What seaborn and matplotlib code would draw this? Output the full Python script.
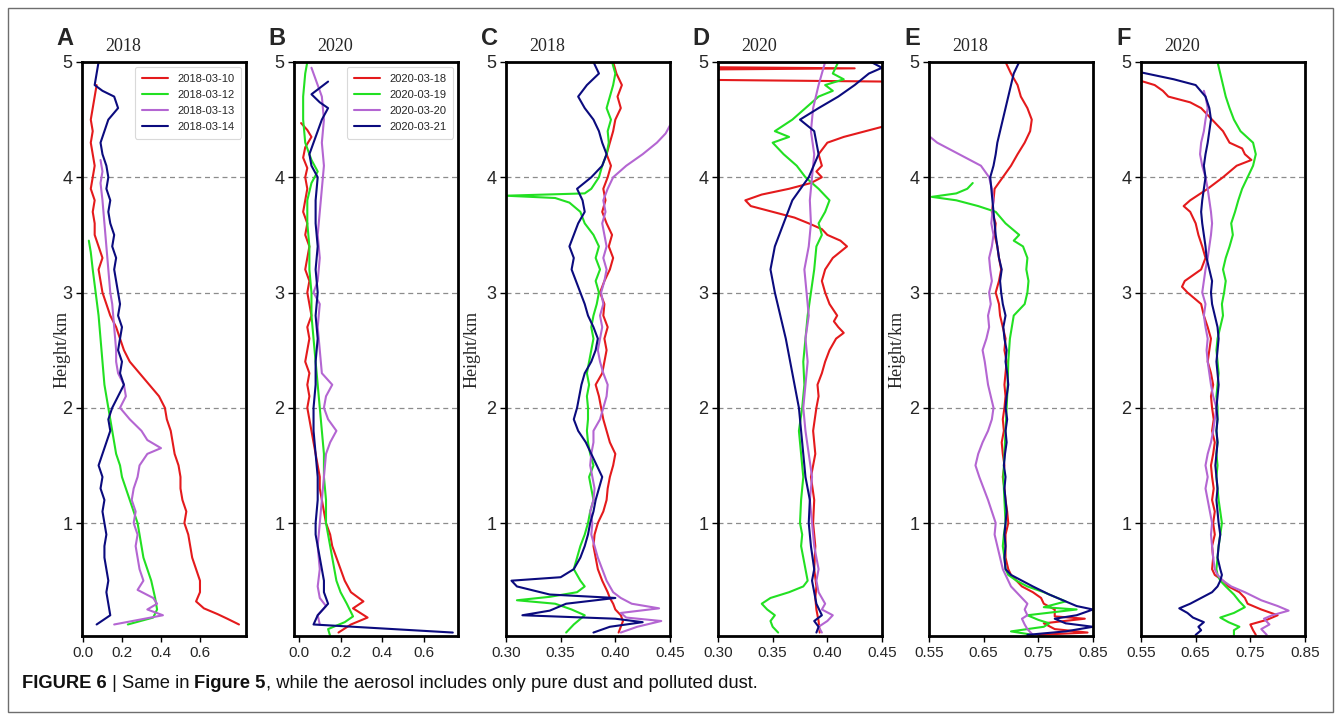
import numpy as np
import pandas as pd
import matplotlib
matplotlib.use("Agg")
import matplotlib.pyplot as plt
import seaborn as sns
from matplotlib.patches import Rectangle

sns.set_theme(style="ticks")
plt.rcParams["font.family"] = ["Liberation Sans", "DejaVu Sans"]

# ---------------- data ----------------
dates_2018 = ["2018-03-10", "2018-03-12", "2018-03-13", "2018-03-14"]
dates_2020 = ["2020-03-18", "2020-03-19", "2020-03-20", "2020-03-21"]
colors = ["#e41a1c", "#22e022", "#b466d2", "#0b0b7e"]

# Panel A (2018)
a1_h = [0.12,0.17,0.21,0.26,0.32,0.4,0.5,0.6,0.7,0.8,0.9,1.0,1.1,1.2,1.3,1.4,1.5,1.6,1.7,1.8,1.9,2.0,2.1,2.2,2.3,2.4,2.5,2.6,2.7,2.8,2.9,3.0,3.1,3.2,3.3,3.4,3.5,3.6,3.7,3.8,3.9,4.0,4.1,4.2,4.3,4.4,4.5,4.6,4.7,4.8]
a1_v = [0.80,0.74,0.69,0.62,0.58,0.60,0.60,0.58,0.56,0.55,0.54,0.52,0.53,0.51,0.50,0.50,0.49,0.47,0.46,0.45,0.43,0.42,0.39,0.34,0.29,0.24,0.21,0.19,0.17,0.14,0.12,0.10,0.09,0.08,0.10,0.08,0.06,0.06,0.05,0.06,0.04,0.05,0.06,0.05,0.04,0.05,0.04,0.05,0.06,0.07]
a2_h = [0.12,0.18,0.25,0.35,0.5,0.6,0.7,0.8,0.9,1.0,1.1,1.2,1.3,1.4,1.5,1.6,1.7,1.8,1.9,2.0,2.2,2.4,2.6,2.8,3.0,3.2,3.35,3.45]
a2_v = [0.23,0.36,0.38,0.37,0.35,0.33,0.31,0.30,0.29,0.28,0.26,0.24,0.22,0.20,0.19,0.17,0.16,0.15,0.14,0.13,0.11,0.10,0.09,0.08,0.065,0.05,0.04,0.03]
a3_h = [0.12,0.2,0.25,0.3,0.35,0.42,0.5,0.6,0.7,0.8,0.9,1.0,1.1,1.2,1.3,1.4,1.5,1.6,1.65,1.72,1.8,1.9,2.0,2.1,2.2,2.3,2.4,2.5,2.7,2.9,3.0,3.2,3.4,3.6,3.8,3.95,4.05,4.15]
a3_v = [0.16,0.41,0.33,0.38,0.36,0.28,0.31,0.29,0.28,0.27,0.28,0.26,0.27,0.25,0.26,0.28,0.29,0.33,0.40,0.33,0.30,0.24,0.19,0.22,0.21,0.18,0.17,0.17,0.16,0.15,0.14,0.13,0.12,0.11,0.10,0.09,0.10,0.09]
a4_h = [0.12,0.2,0.3,0.4,0.5,0.6,0.7,0.8,0.9,1.0,1.1,1.2,1.3,1.4,1.5,1.6,1.7,1.8,1.9,2.0,2.1,2.2,2.3,2.4,2.5,2.6,2.7,2.8,2.9,3.0,3.1,3.2,3.3,3.4,3.5,3.6,3.7,3.8,3.9,4.0,4.1,4.2,4.3,4.4,4.5,4.6,4.7,4.75,4.8,4.9,5.0]
a4_v = [0.07,0.14,0.13,0.12,0.13,0.12,0.11,0.11,0.12,0.11,0.10,0.11,0.09,0.10,0.08,0.10,0.12,0.14,0.13,0.15,0.18,0.21,0.19,0.20,0.18,0.19,0.20,0.18,0.19,0.18,0.17,0.16,0.17,0.15,0.16,0.14,0.13,0.14,0.12,0.13,0.12,0.10,0.09,0.11,0.13,0.18,0.16,0.10,0.06,0.07,0.08]

# Panel B (2020)
b1_h = [0.05,0.12,0.18,0.26,0.32,0.4,0.5,0.6,0.7,0.8,0.9,1.0,1.1,1.2,1.3,1.4,1.5,1.6,1.7,1.8,1.9,2.0,2.1,2.2,2.3,2.4,2.5,2.6,2.7,2.8,2.9,3.0,3.1,3.2,3.3,3.4,3.5,3.6,3.7,3.8,3.9,4.0,4.08,4.17,4.26,4.35,4.41,4.47]
b1_v = [0.19,0.25,0.33,0.26,0.31,0.25,0.22,0.20,0.18,0.16,0.15,0.13,0.12,0.11,0.10,0.10,0.09,0.08,0.07,0.06,0.05,0.04,0.05,0.04,0.05,0.03,0.04,0.05,0.04,0.06,0.05,0.04,0.05,0.03,0.04,0.05,0.03,0.04,0.02,0.03,0.04,0.03,0.04,0.02,0.03,0.06,0.04,0.01]
b2_h = [0.02,0.08,0.14,0.19,0.3,0.4,0.5,0.6,0.7,0.8,0.9,1.0,1.2,1.4,1.6,1.8,2.0,2.2,2.4,2.6,2.8,3.0,3.2,3.4,3.6,3.8,3.95,4.05,4.15,4.3,4.5,4.7,4.9,5.0]
b2_v = [0.15,0.14,0.22,0.26,0.23,0.20,0.18,0.17,0.16,0.15,0.14,0.13,0.13,0.12,0.12,0.11,0.10,0.09,0.08,0.07,0.06,0.06,0.05,0.05,0.04,0.04,0.06,0.09,0.06,0.03,0.02,0.02,0.03,0.04]
b3_h = [0.12,0.2,0.28,0.35,0.45,0.6,0.8,1.0,1.2,1.4,1.6,1.7,1.8,1.9,2.0,2.1,2.2,2.3,2.5,2.7,2.9,3.0,3.1,3.3,3.5,3.7,3.9,4.1,4.3,4.5,4.7,4.85,4.95]
b3_v = [0.10,0.09,0.13,0.10,0.09,0.10,0.09,0.10,0.11,0.12,0.13,0.15,0.18,0.14,0.12,0.13,0.16,0.11,0.10,0.09,0.10,0.07,0.09,0.10,0.09,0.10,0.11,0.12,0.11,0.12,0.11,0.08,0.06]
b4_h = [0.05,0.12,0.2,0.3,0.4,0.5,0.6,0.7,0.8,0.9,1.0,1.2,1.4,1.6,1.8,2.0,2.2,2.4,2.6,2.8,3.0,3.2,3.4,3.6,3.8,4.0,4.1,4.2,4.3,4.4,4.5,4.6,4.65,4.72,4.83]
b4_v = [0.74,0.07,0.09,0.14,0.12,0.12,0.11,0.10,0.09,0.08,0.08,0.09,0.09,0.08,0.07,0.07,0.08,0.08,0.09,0.08,0.09,0.08,0.09,0.08,0.08,0.09,0.06,0.05,0.07,0.09,0.11,0.14,0.10,0.06,0.14]

# Panel C (2018)
c1_h = [0.05,0.1,0.15,0.2,0.25,0.3,0.35,0.4,0.5,0.6,0.7,0.8,0.9,1.0,1.1,1.2,1.3,1.4,1.5,1.6,1.7,1.8,1.9,2.0,2.1,2.2,2.3,2.4,2.5,2.6,2.7,2.8,2.9,3.0,3.1,3.2,3.3,3.4,3.5,3.6,3.7,3.8,3.9,4.0,4.1,4.2,4.3,4.4,4.5,4.6,4.7,4.8,4.9,5.0]
c1_v = [0.403,0.405,0.407,0.405,0.400,0.398,0.395,0.393,0.388,0.384,0.382,0.380,0.381,0.384,0.389,0.392,0.393,0.395,0.398,0.400,0.395,0.392,0.389,0.387,0.385,0.382,0.388,0.390,0.392,0.390,0.393,0.389,0.390,0.386,0.390,0.395,0.398,0.394,0.397,0.392,0.388,0.391,0.389,0.393,0.396,0.392,0.395,0.398,0.400,0.405,0.402,0.406,0.401,0.398]
c2_h = [0.05,0.12,0.2,0.25,0.3,0.33,0.36,0.4,0.45,0.5,0.6,0.7,0.8,0.9,1.0,1.1,1.2,1.3,1.4,1.5,1.6,1.7,1.8,1.9,2.0,2.1,2.2,2.3,2.4,2.5,2.6,2.7,2.8,2.9,3.0,3.1,3.2,3.3,3.4,3.5,3.6,3.7,3.78,3.82,3.84,3.86,3.9,4.0,4.1,4.2,4.3,4.4,4.5,4.6,4.7,4.8,4.9,5.0]
c2_v = [0.355,0.362,0.372,0.360,0.345,0.310,0.340,0.365,0.372,0.368,0.362,0.365,0.368,0.372,0.375,0.377,0.380,0.378,0.376,0.380,0.377,0.375,0.374,0.375,0.375,0.374,0.376,0.374,0.376,0.378,0.380,0.378,0.380,0.383,0.385,0.382,0.386,0.382,0.385,0.380,0.372,0.368,0.358,0.345,0.300,0.372,0.378,0.385,0.388,0.392,0.394,0.393,0.396,0.392,0.395,0.398,0.400,0.397]
c3_h = [0.05,0.1,0.15,0.18,0.22,0.26,0.3,0.35,0.4,0.5,0.6,0.7,0.8,0.9,1.0,1.1,1.2,1.3,1.4,1.5,1.6,1.7,1.8,1.9,2.0,2.1,2.2,2.3,2.4,2.5,2.6,2.7,2.8,2.9,3.0,3.1,3.2,3.3,3.4,3.5,3.6,3.7,3.8,3.9,4.0,4.1,4.2,4.3,4.38,4.45]
c3_v = [0.405,0.420,0.442,0.410,0.405,0.440,0.415,0.405,0.398,0.392,0.388,0.384,0.381,0.378,0.379,0.377,0.380,0.381,0.379,0.377,0.378,0.380,0.380,0.386,0.389,0.392,0.393,0.389,0.386,0.384,0.386,0.388,0.386,0.389,0.387,0.390,0.392,0.389,0.392,0.390,0.388,0.391,0.389,0.393,0.398,0.410,0.425,0.438,0.446,0.450]
c4_h = [0.05,0.1,0.14,0.17,0.2,0.24,0.3,0.35,0.38,0.45,0.5,0.53,0.6,0.7,0.8,0.9,1.0,1.1,1.2,1.3,1.4,1.5,1.6,1.7,1.8,1.9,2.0,2.1,2.2,2.3,2.4,2.5,2.6,2.7,2.8,2.9,3.0,3.1,3.2,3.3,3.4,3.5,3.6,3.7,3.8,3.9,4.0,4.1,4.2,4.3,4.4,4.5,4.6,4.7,4.8,4.9,5.0]
c4_v = [0.380,0.395,0.425,0.400,0.315,0.340,0.355,0.400,0.340,0.310,0.305,0.350,0.362,0.368,0.372,0.375,0.377,0.380,0.382,0.385,0.388,0.383,0.378,0.373,0.366,0.362,0.365,0.367,0.369,0.372,0.378,0.382,0.384,0.380,0.375,0.372,0.368,0.364,0.360,0.362,0.358,0.362,0.366,0.372,0.370,0.365,0.378,0.388,0.392,0.388,0.385,0.380,0.372,0.366,0.374,0.385,0.380]

# Panel D (2020)
d1_h = [0.05,0.15,0.25,0.35,0.45,0.6,0.8,1.0,1.2,1.4,1.6,1.8,2.0,2.1,2.2,2.3,2.4,2.5,2.6,2.65,2.7,2.75,2.8,2.9,3.0,3.1,3.2,3.3,3.4,3.45,3.5,3.55,3.6,3.65,3.7,3.75,3.8,3.85,3.9,3.95,4.0,4.05,4.1,4.2,4.3,4.35,4.45,4.6,4.8,4.83,4.845,4.9,4.935,4.945,4.955,5.0]
d1_v = [0.393,0.392,0.390,0.389,0.390,0.388,0.389,0.387,0.388,0.385,0.389,0.387,0.390,0.392,0.391,0.395,0.398,0.402,0.408,0.415,0.410,0.406,0.409,0.402,0.398,0.395,0.398,0.405,0.418,0.412,0.400,0.395,0.383,0.370,0.350,0.330,0.325,0.340,0.365,0.385,0.395,0.390,0.395,0.392,0.400,0.415,0.455,0.480,0.480,0.455,0.290,0.270,0.290,0.425,0.290,0.270]
d2_h = [0.05,0.1,0.15,0.2,0.25,0.3,0.35,0.4,0.45,0.5,0.6,0.7,0.8,0.9,1.0,1.2,1.4,1.6,1.8,2.0,2.2,2.4,2.6,2.8,3.0,3.2,3.4,3.5,3.6,3.7,3.8,3.9,4.0,4.1,4.2,4.3,4.35,4.4,4.5,4.6,4.7,4.75,4.8,4.85,4.9,5.0]
d2_v = [0.355,0.350,0.348,0.352,0.345,0.340,0.348,0.365,0.378,0.382,0.380,0.378,0.376,0.377,0.375,0.376,0.378,0.376,0.374,0.377,0.379,0.378,0.380,0.382,0.385,0.388,0.390,0.395,0.392,0.398,0.402,0.392,0.380,0.372,0.360,0.350,0.365,0.352,0.368,0.380,0.392,0.405,0.398,0.415,0.405,0.410]
d3_h = [0.05,0.1,0.15,0.2,0.25,0.3,0.4,0.5,0.6,0.8,1.0,1.2,1.4,1.6,1.8,2.0,2.2,2.4,2.6,2.8,3.0,3.2,3.4,3.6,3.8,4.0,4.2,4.4,4.6,4.8,5.0]
d3_v = [0.395,0.392,0.400,0.405,0.395,0.398,0.392,0.390,0.392,0.388,0.386,0.384,0.386,0.383,0.380,0.378,0.380,0.382,0.380,0.383,0.381,0.379,0.383,0.385,0.384,0.386,0.388,0.385,0.387,0.392,0.398]
d4_h = [0.05,0.1,0.15,0.2,0.3,0.4,0.5,0.6,0.8,1.0,1.2,1.4,1.6,1.8,2.0,2.2,2.4,2.6,2.8,3.0,3.2,3.4,3.6,3.8,4.0,4.2,4.4,4.5,4.6,4.7,4.8,4.9,4.95,5.0]
d4_v = [0.390,0.392,0.388,0.395,0.390,0.388,0.386,0.388,0.385,0.383,0.384,0.380,0.378,0.376,0.374,0.370,0.366,0.362,0.357,0.352,0.348,0.352,0.360,0.368,0.383,0.392,0.388,0.375,0.392,0.410,0.425,0.438,0.450,0.440]

# Panel E (2018)
e1_h = [0.03,0.05,0.08,0.13,0.17,0.19,0.25,0.3,0.35,0.4,0.45,0.5,0.55,0.6,0.7,0.8,0.9,1.0,1.1,1.2,1.3,1.4,1.5,1.6,1.7,1.8,1.9,2.0,2.1,2.2,2.3,2.4,2.5,2.6,2.7,2.8,2.9,3.0,3.1,3.2,3.3,3.4,3.5,3.6,3.7,3.8,3.9,4.0,4.1,4.2,4.3,4.4,4.5,4.6,4.7,4.8,4.9,5.0]
e1_v = [0.75,0.84,0.78,0.76,0.835,0.78,0.78,0.76,0.755,0.74,0.72,0.71,0.700,0.695,0.690,0.690,0.690,0.695,0.693,0.690,0.688,0.685,0.688,0.685,0.683,0.687,0.685,0.688,0.690,0.688,0.690,0.692,0.688,0.690,0.685,0.680,0.678,0.672,0.678,0.682,0.678,0.675,0.670,0.672,0.665,0.668,0.670,0.685,0.700,0.712,0.725,0.735,0.738,0.730,0.718,0.712,0.700,0.690]
e2_h = [0.03,0.06,0.1,0.13,0.16,0.2,0.25,0.27,0.32,0.4,0.45,0.5,0.55,0.6,0.7,0.8,0.9,1.0,1.2,1.4,1.6,1.8,2.0,2.2,2.4,2.6,2.8,2.9,3.0,3.1,3.2,3.3,3.4,3.45,3.5,3.6,3.7,3.75,3.8,3.83,3.86,3.9,3.95]
e2_v = [0.74,0.70,0.76,0.77,0.75,0.73,0.82,0.76,0.80,0.76,0.73,0.71,0.695,0.690,0.688,0.685,0.687,0.690,0.688,0.686,0.688,0.690,0.692,0.694,0.695,0.698,0.705,0.725,0.730,0.732,0.728,0.730,0.722,0.705,0.715,0.690,0.672,0.640,0.600,0.555,0.600,0.620,0.630]
e3_h = [0.03,0.08,0.12,0.17,0.2,0.25,0.3,0.35,0.4,0.45,0.5,0.6,0.7,0.8,0.9,1.0,1.1,1.2,1.3,1.4,1.5,1.6,1.7,1.8,1.9,2.0,2.1,2.2,2.3,2.4,2.5,2.6,2.7,2.8,2.9,3.0,3.1,3.2,3.3,3.4,3.5,3.6,3.7,3.8,3.9,4.0,4.1,4.15,4.2,4.25,4.3,4.35]
e3_v = [0.74,0.73,0.725,0.72,0.73,0.725,0.73,0.72,0.71,0.70,0.695,0.685,0.680,0.675,0.670,0.672,0.665,0.658,0.650,0.642,0.635,0.640,0.648,0.658,0.665,0.668,0.663,0.658,0.655,0.652,0.648,0.655,0.660,0.658,0.663,0.660,0.665,0.662,0.660,0.665,0.668,0.664,0.666,0.668,0.665,0.660,0.645,0.625,0.605,0.585,0.565,0.552]
e4_h = [0.03,0.06,0.1,0.13,0.17,0.2,0.25,0.28,0.32,0.38,0.45,0.5,0.55,0.6,0.7,0.8,0.9,1.0,1.1,1.2,1.3,1.4,1.5,1.6,1.7,1.8,1.9,2.0,2.1,2.2,2.3,2.4,2.5,2.6,2.7,2.8,2.9,3.0,3.1,3.2,3.3,3.4,3.5,3.6,3.7,3.8,3.9,4.0,4.1,4.2,4.3,4.4,4.5,4.6,4.7,4.8,4.9,5.0]
e4_v = [0.73,0.80,0.85,0.80,0.78,0.82,0.85,0.82,0.80,0.77,0.74,0.72,0.70,0.690,0.688,0.690,0.688,0.690,0.692,0.690,0.688,0.690,0.687,0.689,0.692,0.690,0.693,0.690,0.692,0.695,0.693,0.690,0.692,0.688,0.686,0.690,0.685,0.682,0.680,0.683,0.678,0.675,0.672,0.670,0.668,0.666,0.664,0.662,0.668,0.672,0.675,0.680,0.685,0.690,0.695,0.700,0.705,0.715]

# Panel F (2020)
f1_h = [0.03,0.07,0.12,0.16,0.2,0.25,0.3,0.35,0.4,0.45,0.5,0.55,0.6,0.7,0.8,0.9,1.0,1.1,1.2,1.3,1.4,1.5,1.6,1.7,1.8,1.9,2.0,2.1,2.2,2.3,2.4,2.5,2.6,2.7,2.8,2.9,3.0,3.05,3.1,3.2,3.3,3.4,3.5,3.6,3.7,3.75,3.8,3.9,4.0,4.1,4.15,4.2,4.25,4.3,4.4,4.5,4.6,4.65,4.7,4.75,4.8,4.85]
f1_v = [0.76,0.755,0.75,0.78,0.80,0.77,0.745,0.74,0.73,0.71,0.70,0.685,0.680,0.682,0.680,0.685,0.682,0.685,0.680,0.683,0.680,0.678,0.682,0.685,0.680,0.683,0.680,0.678,0.682,0.678,0.672,0.675,0.678,0.672,0.665,0.660,0.635,0.625,0.630,0.660,0.668,0.662,0.655,0.650,0.640,0.628,0.640,0.672,0.700,0.725,0.752,0.740,0.735,0.712,0.700,0.680,0.660,0.640,0.600,0.590,0.575,0.540]
f2_h = [0.03,0.07,0.1,0.14,0.18,0.22,0.27,0.32,0.38,0.45,0.5,0.55,0.6,0.7,0.8,0.9,1.0,1.1,1.2,1.3,1.4,1.5,1.6,1.7,1.8,1.9,2.0,2.1,2.2,2.3,2.4,2.5,2.6,2.7,2.8,2.9,3.0,3.1,3.2,3.3,3.4,3.5,3.6,3.7,3.8,3.9,4.0,4.1,4.2,4.3,4.4,4.5,4.6,4.7,4.8,4.9,5.0]
f2_v = [0.72,0.72,0.73,0.71,0.695,0.72,0.74,0.73,0.72,0.705,0.695,0.690,0.688,0.690,0.692,0.695,0.698,0.695,0.692,0.690,0.688,0.690,0.688,0.690,0.688,0.690,0.690,0.688,0.690,0.692,0.690,0.688,0.690,0.695,0.700,0.698,0.702,0.705,0.700,0.705,0.712,0.718,0.715,0.722,0.728,0.735,0.745,0.755,0.760,0.755,0.732,0.720,0.712,0.705,0.700,0.695,0.690]
f3_h = [0.03,0.08,0.12,0.17,0.2,0.24,0.28,0.33,0.4,0.45,0.5,0.55,0.6,0.7,0.8,0.9,1.0,1.1,1.2,1.3,1.4,1.5,1.6,1.7,1.8,1.9,2.0,2.1,2.2,2.3,2.4,2.5,2.6,2.7,2.8,2.9,3.0,3.1,3.2,3.3,3.4,3.5,3.6,3.7,3.8,3.9,4.0,4.1,4.2,4.3,4.4,4.5,4.6,4.7,4.75]
f3_v = [0.78,0.77,0.785,0.775,0.79,0.82,0.80,0.77,0.74,0.715,0.700,0.690,0.685,0.682,0.680,0.678,0.680,0.676,0.672,0.668,0.672,0.668,0.672,0.678,0.682,0.685,0.688,0.682,0.678,0.675,0.672,0.670,0.672,0.668,0.665,0.668,0.662,0.665,0.668,0.672,0.675,0.678,0.680,0.678,0.675,0.672,0.668,0.662,0.658,0.660,0.665,0.668,0.672,0.668,0.665]
f4_h = [0.03,0.07,0.1,0.14,0.18,0.22,0.26,0.3,0.35,0.4,0.45,0.5,0.55,0.6,0.7,0.8,0.9,1.0,1.1,1.2,1.3,1.4,1.5,1.6,1.7,1.8,1.9,2.0,2.1,2.2,2.3,2.4,2.5,2.6,2.7,2.8,2.9,3.0,3.1,3.2,3.3,3.4,3.5,3.6,3.7,3.8,3.9,4.0,4.1,4.2,4.3,4.4,4.5,4.6,4.7,4.8,4.85,4.9,4.92]
f4_v = [0.65,0.66,0.655,0.665,0.645,0.635,0.62,0.64,0.66,0.68,0.69,0.695,0.698,0.695,0.690,0.692,0.695,0.692,0.690,0.688,0.690,0.688,0.686,0.688,0.690,0.688,0.690,0.688,0.690,0.692,0.690,0.688,0.690,0.692,0.690,0.685,0.680,0.678,0.680,0.675,0.670,0.668,0.665,0.662,0.660,0.662,0.665,0.668,0.665,0.668,0.672,0.675,0.678,0.675,0.668,0.650,0.610,0.560,0.540]

panel_letters = ["A", "B", "C", "D", "E", "F"]
panel_years = ["2018", "2020", "2018", "2020", "2018", "2020"]
xtick_ab = [0.0, 0.2, 0.4, 0.6]
xtick_cd = [0.30, 0.35, 0.40, 0.45]
xtick_ef = [0.55, 0.65, 0.75, 0.85]
ytick_vals = [1, 2, 3, 4, 5]

panels = [
    dict(series=[(a1_h, a1_v), (a2_h, a2_v), (a3_h, a3_v), (a4_h, a4_v)], dates=dates_2018,
         xlim=(-0.005, 0.836), xt=xtick_ab, fmt="{:.1f}", ylabel=True, legend=True, lpad=-6),
    dict(series=[(b1_h, b1_v), (b2_h, b2_v), (b3_h, b3_v), (b4_h, b4_v)], dates=dates_2020,
         xlim=(-0.024, 0.765), xt=xtick_ab, fmt="{:.1f}", ylabel=False, legend=True, lpad=0),
    dict(series=[(c1_h, c1_v), (c2_h, c2_v), (c3_h, c3_v), (c4_h, c4_v)], dates=dates_2018,
         xlim=(0.30, 0.45), xt=xtick_cd, fmt="{:.2f}", ylabel=True, legend=False, lpad=4),
    dict(series=[(d1_h, d1_v), (d2_h, d2_v), (d3_h, d3_v), (d4_h, d4_v)], dates=dates_2020,
         xlim=(0.30, 0.45), xt=xtick_cd, fmt="{:.2f}", ylabel=False, legend=False, lpad=0),
    dict(series=[(e1_h, e1_v), (e2_h, e2_v), (e3_h, e3_v), (e4_h, e4_v)], dates=dates_2018,
         xlim=(0.55, 0.85), xt=xtick_ef, fmt="{:.2f}", ylabel=True, legend=False, lpad=3),
    dict(series=[(f1_h, f1_v), (f2_h, f2_v), (f3_h, f3_v), (f4_h, f4_v)], dates=dates_2020,
         xlim=(0.55, 0.85), xt=xtick_ef, fmt="{:.2f}", ylabel=False, legend=False, lpad=0),
]

# ---------------- figure ----------------
W, H = 1341, 720
fig = plt.figure(figsize=(W / 100, H / 100), dpi=100)
fig.patch.set_facecolor("white")

ax_left_px = [82, 294, 506, 718, 929, 1141]
ax_w_px = 164
ax_top_px, ax_bot_px = 62, 636

for i, p in enumerate(panels):
    ax = fig.add_axes([ax_left_px[i] / W, (H - ax_bot_px) / H, ax_w_px / W,
                       (ax_bot_px - ax_top_px) / H])
    frames = []
    for (hh, vv), d in zip(p["series"], p["dates"]):
        frames.append(pd.DataFrame({"h": hh, "v": vv, "date": d}))
    df = pd.concat(frames, ignore_index=True)
    pal = dict(zip(p["dates"], colors))
    for yv in ytick_vals[:-1]:
        ax.axhline(yv, color="#8c8c8c", lw=0.9, ls=(0, (4, 3)), zorder=0)
    sns.lineplot(data=df, x="v", y="h", hue="date", hue_order=p["dates"], palette=pal,
                 sort=False, estimator=None, orient="y", lw=1.5, ax=ax,
                 legend=p["legend"])
    ax.set_xlim(*p["xlim"])
    ax.set_ylim(0.02, 5.0)
    ax.set_xticks(p["xt"])
    ax.set_xticklabels([p["fmt"].format(t) for t in p["xt"]], fontsize=11)
    ax.set_yticks(ytick_vals)
    ax.set_yticklabels([str(t) for t in ytick_vals], fontsize=13)
    ax.tick_params(direction="out", length=4, width=1, color="black", pad=3)
    ax.set_xlabel("")
    if p["ylabel"]:
        ax.set_ylabel("Height/km", family="Liberation Serif", fontsize=13, labelpad=p["lpad"])
    else:
        ax.set_ylabel("")
    for s in ax.spines.values():
        s.set_linewidth(2.0)
        s.set_color("black")
    if p["legend"]:
        leg = ax.legend(loc="upper right", fontsize=8, frameon=True, fancybox=True,
                        edgecolor="#d0d0d0", handlelength=2.4, labelspacing=0.55,
                        borderpad=0.6, borderaxespad=0.45, title=None)
        leg.get_frame().set_linewidth(0.8)
        for line in leg.get_lines():
            line.set_linewidth(1.5)
    ax.text(23 / ax_w_px, 1.0 + 7 / (ax_bot_px - ax_top_px), panel_years[i],
            transform=ax.transAxes, family="Liberation Serif", fontsize=13,
            ha="left", va="bottom")
    fig.text((ax_left_px[i] - 17) / W, (H - 45) / H, panel_letters[i],
             fontsize=17, fontweight="bold", ha="center", va="baseline")

# outer frame
fig.add_artist(Rectangle((8 / W, 8 / H), (1333 - 8) / W, (712 - 8) / H,
                         transform=fig.transFigure, fill=False, ec="#6e6e6e", lw=1.0))

# caption
fig.canvas.draw()
renderer = fig.canvas.get_renderer()
parts = [("FIGURE 6", "bold"), (" | ", "normal"), ("Same in ", "normal"),
         ("Figure 5", "bold"),
         (", while the aerosol includes only pure dust and polluted dust.", "normal")]
x = 22
for txt, wt in parts:
    t = fig.text(x / W, (H - 688) / H, txt, fontsize=13.2, fontweight=wt,
                 ha="left", va="baseline", color="#111111")
    bb = t.get_window_extent(renderer=renderer)
    x += bb.width

fig.savefig("out.png", dpi=100, facecolor="white")
